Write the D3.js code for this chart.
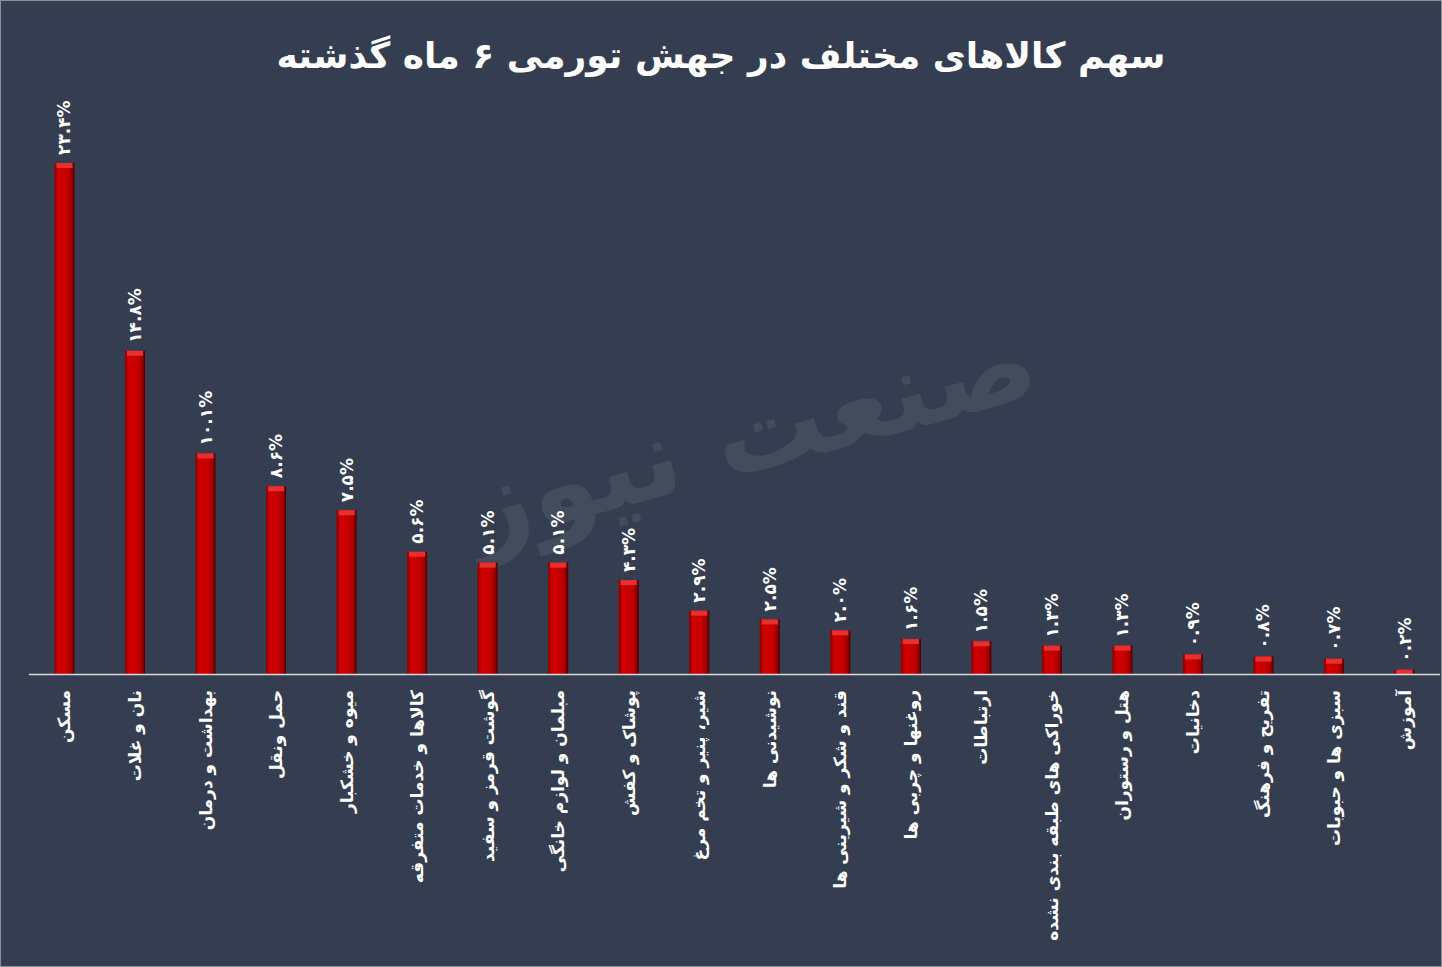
<!DOCTYPE html>
<html><head><meta charset="utf-8">
<script src="https://cdn.jsdelivr.net/npm/d3@7"></script>
<style>
body{margin:0;background:#fff;}
svg{display:block;font-family:"DejaVu Sans",sans-serif;}
</style></head>
<body><svg id="chart" width="1442" height="967"></svg>
<script>
const categories = ['مسکن','نان و غلات','بهداشت و درمان','حمل ونقل','میوه و خشکبار','کالاها و خدمات متفرقه','گوشت قرمز و سفید','مبلمان و لوازم خانگی','پوشاک و کفش','شیر، پنیر و تخم مرغ','نوشیدنی ها','قند و شکر و شیرینی ها','روغنها و چربی ها','ارتباطات','خوراکی های طبقه بندی نشده','هتل و رستوران','دخانیات','تفریح و فرهنگ','سبزی ها و حبوبات','آموزش'];
const values = [23.4,14.8,10.1,8.6,7.5,5.6,5.1,5.1,4.3,2.9,2.5,2.0,1.6,1.5,1.3,1.3,0.9,0.8,0.7,0.2];
const title = 'سهم کالاهای مختلف در جهش تورمی ۶ ماه گذشته';

const fa = s => s.replace(/\d/g, d => '۰۱۲۳۴۵۶۷۸۹'[d]);
const svg = d3.select('#chart');
const W = 1442, H = 967, base = 674;

svg.append('rect').attr('x',0.5).attr('y',0.5).attr('width',W-1).attr('height',H-1)
  .attr('fill','#353e50').attr('stroke','#8a8f99');

const defs = svg.append('defs');
const g1 = defs.append('linearGradient').attr('id','bar');
[['0%','#8a0000'],['20%','#d00000'],['60%','#c80000'],['85%','#a00000'],['100%','#4a0000']]
  .forEach(([o,c]) => g1.append('stop').attr('offset',o).attr('stop-color',c));

// watermark
svg.append('text').attr('x',760).attr('y',470).attr('text-anchor','middle')
  .attr('transform','rotate(-15,760,470)')
  .attr('font-size',110).attr('font-weight','bold').attr('fill','#ffffff').attr('opacity',0.07)
  .attr('direction','rtl').text('صنعت نیوز');

svg.append('text').attr('x',721).attr('y',68).attr('text-anchor','middle')
  .attr('fill','#fff').attr('font-size',36).attr('font-weight','bold').attr('direction','rtl')
  .text(title);

const x = d3.scaleBand().domain(categories).range([29,1440]).paddingInner(0.715).paddingOuter(0.36);
const y = d3.scaleLinear().domain([0,23.4]).range([base,163]);

const bars = svg.append('g').selectAll('g').data(categories).join('g');
bars.append('rect')
  .attr('x', d => x(d)).attr('width', x.bandwidth())
  .attr('y', (d,i) => y(values[i])).attr('height', (d,i) => base - y(values[i]))
  .attr('fill','url(#bar)');
bars.append('rect')
  .attr('x', d => x(d)+2).attr('width', x.bandwidth()-4)
  .attr('y', (d,i) => y(values[i])).attr('height', (d,i) => Math.min(5, base - y(values[i])))
  .attr('fill','#e83030');

svg.append('line').attr('x1',29).attr('x2',1440).attr('y1',base+0.5).attr('y2',base+0.5)
  .attr('stroke','#d9d9d9').attr('stroke-width',1.5);

bars.append('text')
  .attr('transform', (d,i) => `translate(${x(d)+x.bandwidth()/2+6},${y(values[i])-8}) rotate(-90)`)
  .attr('fill','#fff').attr('font-size',17).attr('font-weight','bold')
  .text((d,i) => fa(values[i].toFixed(1)) + '%');

bars.append('text')
  .attr('transform', d => `translate(${x(d)+x.bandwidth()/2+6},${base+16}) rotate(-90)`)
  .attr('fill','#fff').attr('font-size',17).attr('font-weight','bold')
  .attr('direction','rtl').attr('text-anchor','start')
  .text(d => d);
</script></body></html>
